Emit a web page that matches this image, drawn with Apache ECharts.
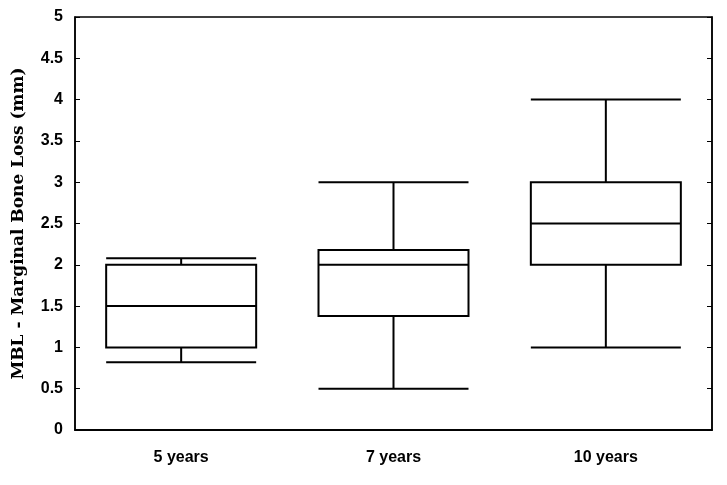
<!DOCTYPE html>
<html>
<head>
<meta charset="utf-8" />
<title>MBL boxplot</title>
<style>
  body { margin: 0; background: #fff; }
  #chart { width: 727px; height: 485px; }
</style>
</head>
<body>
<div id="chart"></div>
<script src="https://cdn.jsdelivr.net/npm/echarts@6/dist/echarts.min.js"></script>
<script>
// [min, Q1, median, Q3, max]
const categories = ['5 years', '7 years', '10 years'];
const boxValues = [
  [0.82, 1.0, 1.5, 2.0, 2.08],
  [0.5, 1.38, 2.0, 2.18, 3.0],
  [1.0, 2.0, 2.5, 3.0, 4.0]
];

const chart = echarts.init(document.getElementById('chart'));
chart.setOption({
  animation: false,
  grid: { left: 75, right: 15, top: 17, bottom: 55, show: true, borderColor: '#000', borderWidth: 1.5 },
  xAxis: [{
    type: 'category',
    data: categories,
    axisLine: { lineStyle: { color: '#000', width: 1.5 } },
    axisTick: { inside: true, alignWithLabel: true, length: 5, lineStyle: { color: '#000' } },
    axisLabel: { color: '#000', fontWeight: 'bold', fontSize: 16, fontFamily: 'Liberation Sans', margin: 20 }
  }, {
    type: 'category',
    position: 'top',
    data: categories,
    axisLine: { lineStyle: { color: '#000', width: 1.5 } },
    axisTick: { inside: true, alignWithLabel: true, length: 5, lineStyle: { color: '#000' } },
    axisLabel: { show: false }
  }],
  yAxis: [{
    type: 'value',
    min: 0, max: 5, interval: 0.5,
    name: 'MBL - Marginal Bone Loss (mm)',
    nameLocation: 'middle',
    nameGap: 48,
    nameTextStyle: { color: '#000', fontWeight: 'bold', fontSize: 17, fontFamily: 'DejaVu Serif' },
    splitLine: { show: false },
    axisLine: { show: true, lineStyle: { color: '#000', width: 1.5 } },
    axisTick: { show: true, inside: true, length: 5, lineStyle: { color: '#000' } },
    axisLabel: { color: '#000', fontWeight: 'bold', fontSize: 16, fontFamily: 'Liberation Sans', margin: 12 }
  }, {
    type: 'value',
    position: 'right',
    min: 0, max: 5, interval: 0.5,
    splitLine: { show: false },
    axisLine: { show: true, lineStyle: { color: '#000', width: 1.5 } },
    axisTick: { show: true, inside: true, length: 5, lineStyle: { color: '#000' } },
    axisLabel: { show: false }
  }],
  series: [{
    type: 'boxplot',
    data: boxValues,
    boxWidth: [140, 150],
    itemStyle: { color: '#fff', borderColor: '#000', borderWidth: 2 }
  }]
});
</script>
</body>
</html>
